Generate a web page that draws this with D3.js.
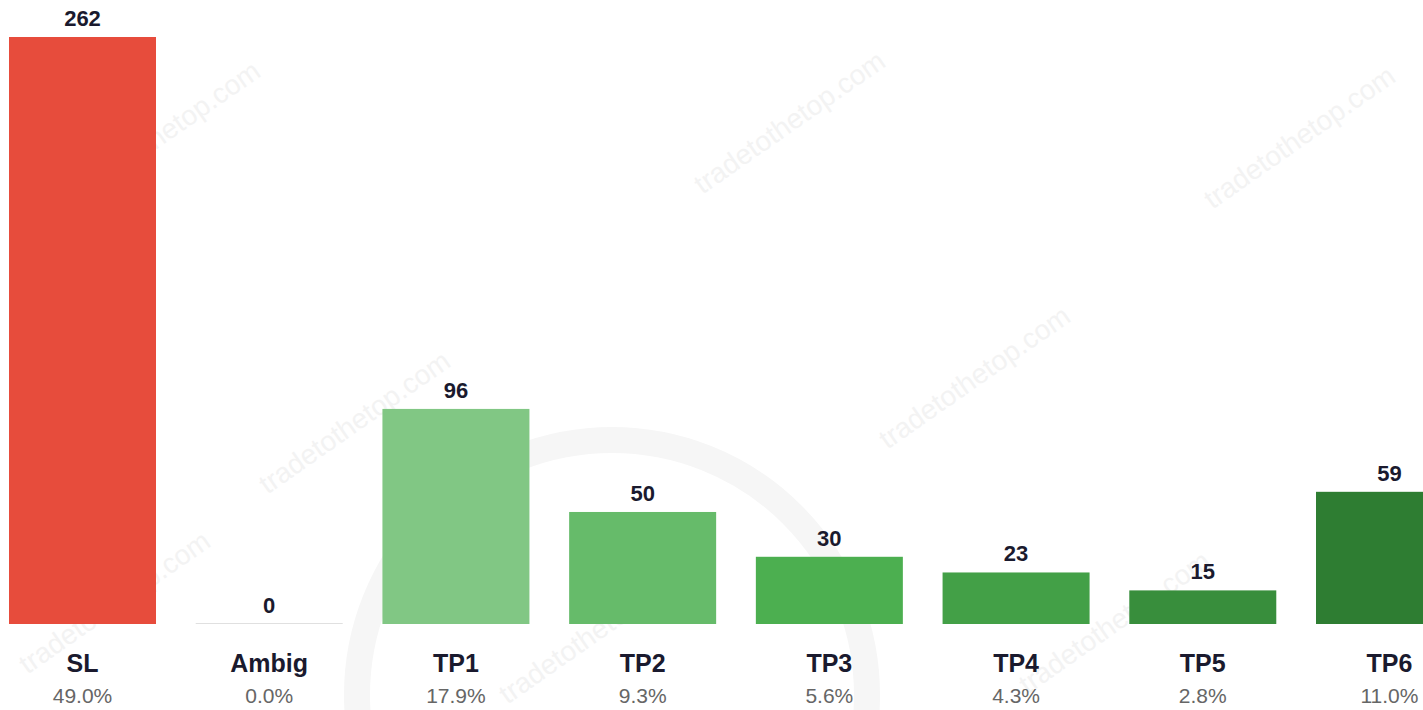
<!DOCTYPE html>
<html>
<head>
<meta charset="utf-8">
<script src="https://cdn.jsdelivr.net/npm/d3@7"></script>
<style>
  html, body { margin: 0; padding: 0; background: #fff; }
  svg { display: block; font-family: "Liberation Sans", Arial, Helvetica, sans-serif; }
</style>
</head>
<body>
<svg id="chart" width="1423" height="710"></svg>
<script>
// data
const categories = ["SL", "Ambig", "TP1", "TP2", "TP3", "TP4", "TP5", "TP6"];
const counts = [262, 0, 96, 50, 30, 23, 15, 59];
const percents = ["49.0%", "0.0%", "17.9%", "9.3%", "5.6%", "4.3%", "2.8%", "11.0%"];
const barColors = ["#e74c3c", "#e0e0e0", "#81c784", "#66bb6a", "#4caf50", "#43a047", "#388e3c", "#2e7d32"];

let svg = d3.select("#chart");
let baseline = 624;

// faint watermark layer first, so bars sit on top
let wm = svg.append("g").attr("class", "watermark");
wm.append("circle")
    .attr("cx", 612).attr("cy", 695).attr("r", 255)
    .attr("fill", "none").attr("stroke", "#f6f6f6").attr("stroke-width", 26);
const wmSpots = [[170, 140], [360, 430], [795, 130], [980, 385], [1305, 145], [1120, 630], [600, 640], [120, 610]];
wm.selectAll("text")
    .data(wmSpots)
    .enter().append("text")
    .attr("transform", (d) => `translate(${d[0]}, ${d[1]}) rotate(-35)`)
    .attr("text-anchor", "middle")
    .attr("font-size", 28)
    .attr("fill", "#f3f3f3")
    .text("tradetothetop.com");

let x = d3.scaleBand()
    .domain(categories)
    .range([9, 1463])
    .paddingInner(0.2127)
    .paddingOuter(0);

let y = d3.scaleLinear()
    .domain([0, d3.max(counts)])
    .range([baseline, 37]);

let rows = categories.map((c, i) => ({cat: c, n: counts[i], pct: percents[i], color: barColors[i]}));

let g = svg.append("g");

g.selectAll("rect.bar")
    .data(rows)
    .enter().append("rect")
    .attr("class", "bar")
    .attr("x", (d) => x(d.cat))
    .attr("y", (d) => d.n > 0 ? y(d.n) : baseline - 1)
    .attr("width", x.bandwidth())
    .attr("height", (d) => d.n > 0 ? baseline - y(d.n) : 1)
    .attr("fill", (d) => d.color);

// value on top of each bar
g.selectAll("text.value")
    .data(rows)
    .enter().append("text")
    .attr("class", "value")
    .attr("x", (d) => x(d.cat) + x.bandwidth() / 2)
    .attr("y", (d) => (d.n > 0 ? y(d.n) : baseline) - 11)
    .attr("text-anchor", "middle")
    .attr("font-size", 22)
    .attr("font-weight", "bold")
    .attr("fill", "#1a1a2e")
    .text((d) => d.n);

// category names
g.selectAll("text.cat")
    .data(rows)
    .enter().append("text")
    .attr("class", "cat")
    .attr("x", (d) => x(d.cat) + x.bandwidth() / 2)
    .attr("y", 672)
    .attr("text-anchor", "middle")
    .attr("font-size", 25)
    .attr("font-weight", "bold")
    .attr("fill", "#1a1a2e")
    .text((d) => d.cat);

// share of total
g.selectAll("text.pct")
    .data(rows)
    .enter().append("text")
    .attr("class", "pct")
    .attr("x", (d) => x(d.cat) + x.bandwidth() / 2)
    .attr("y", 703)
    .attr("text-anchor", "middle")
    .attr("font-size", 21)
    .attr("fill", "#666")
    .text((d) => d.pct);
</script>
</body>
</html>
